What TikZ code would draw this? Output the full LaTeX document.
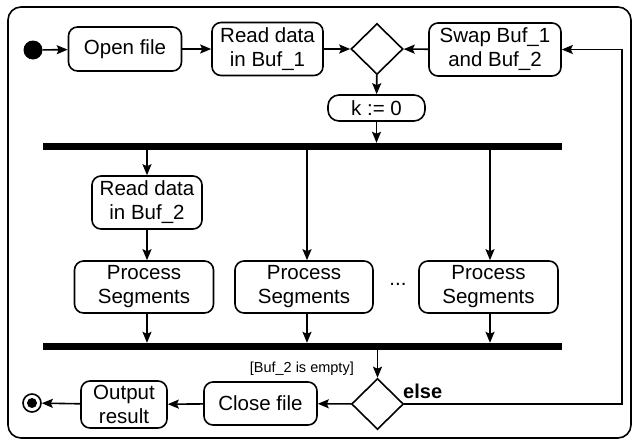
\documentclass[tikz,border=0pt]{standalone}
\usepackage{fontspec}
\setmainfont{Liberation Sans}
\usetikzlibrary{arrows.meta,shapes.geometric}
\begin{document}
\begin{tikzpicture}[x=1pt,y=-1pt,
  lw/.style={line width=1.6pt},
  act/.style={draw,lw,rounded corners=9pt,inner sep=0pt,align=center,font=\fontsize{20.5}{24}\selectfont},
  dec/.style={draw,lw,diamond,inner sep=0pt,minimum width=52pt,minimum height=51pt},
  bar/.style={fill=black,inner sep=0pt,minimum width=519pt,minimum height=7pt},
  arr/.style={lw,-{Stealth[length=11pt,width=9pt,inset=2pt]}}]
\useasboundingbox (0,0) rectangle (636,442);
\draw[lw,rounded corners=13pt] (8,7) rectangle (631,438);
% nodes
\node[circle,fill=black,inner sep=0pt,minimum size=19pt] (start) at (33,50) {};
\node[act,minimum width=113pt,minimum height=44pt] (open) at (125,49) {Open file};
\node[act,minimum width=111pt,minimum height=53pt] (read1) at (267.5,49) {Read data\\in Buf\_1};
\node[dec] (dec1) at (377,49) {};
\node[act,minimum width=132pt,minimum height=53pt] (swap) at (495,49.5) {Swap Buf\_1\\and Buf\_2};
\node[act,rounded corners=11pt,minimum width=97pt,minimum height=26pt] (k) at (376.5,108) {k := 0};
\node[bar] (bar1) at (302.5,146.5) {};
\node[act,minimum width=110pt,minimum height=53pt] (read2) at (147,202.5) {Read data\\in Buf\_2};
\node[act,minimum width=139pt,minimum height=52pt] (p1) at (144,287) {Process\\Segments};
\node[act,minimum width=138pt,minimum height=52pt] (p2) at (304,287) {Process\\Segments};
\node[act,minimum width=139pt,minimum height=52pt] (p3) at (488.5,287) {Process\\Segments};
\node[font=\fontsize{20.5}{24}\selectfont] (dots) at (398,284) {...};
\node[bar] (bar2) at (302.5,346.5) {};
\node[dec] (dec2) at (377.5,404) {};
\node[act,minimum width=113pt,minimum height=43pt] (close) at (260.5,403.5) {Close file};
\node[act,minimum width=86pt,minimum height=47pt] (out) at (124,404.5) {Output\\result};
\node[circle,draw,lw,inner sep=0pt,minimum size=18pt] (end) at (32,403) {};
\node[circle,fill=black,inner sep=0pt,minimum size=10pt] (endin) at (32,403) {};
\node[anchor=east,inner sep=0pt,font=\fontsize{14.5}{17}\selectfont] (guard) at (354,369) {[Buf\_2 is empty]};
\node[anchor=west,inner sep=0pt,font=\fontsize{20}{24}\selectfont\bfseries] (else) at (403,391) {else};
\coordinate (rt) at (622,404);
% connectors
\draw[arr] (start) -- (open);
\draw[arr] (open) -- (read1);
\draw[arr] (read1) -- (dec1);
\draw[arr] (swap) -- (dec1);
\draw[arr] (dec1) -- (k);
\draw[arr] (k) -- (k |- bar1.north);
\draw[arr] (read2 |- bar1.south) -- (read2);
\draw[arr] (307,150) coordinate (b2) -- (b2 |- p2.north);
\draw[arr] (490,150) coordinate (b3) -- (b3 |- p3.north);
\draw[arr] (read2.south) -- (read2.south |- p1.north);
\draw[arr] (read2.south |- p1.south) -- (read2.south |- bar2.north);
\draw[arr] (b2 |- p2.south) -- (b2 |- bar2.north);
\draw[arr] (b3 |- p3.south) -- (b3 |- bar2.north);
\draw[arr] (dec2 |- bar2.south) -- (dec2);
\draw[arr] (dec2) -- (close);
\draw[arr] (close) -- (out);
\draw[arr] (out) -- (end);
\draw[arr] (dec2.east) -- (rt) |- (swap.east);
\end{tikzpicture}
\end{document}
